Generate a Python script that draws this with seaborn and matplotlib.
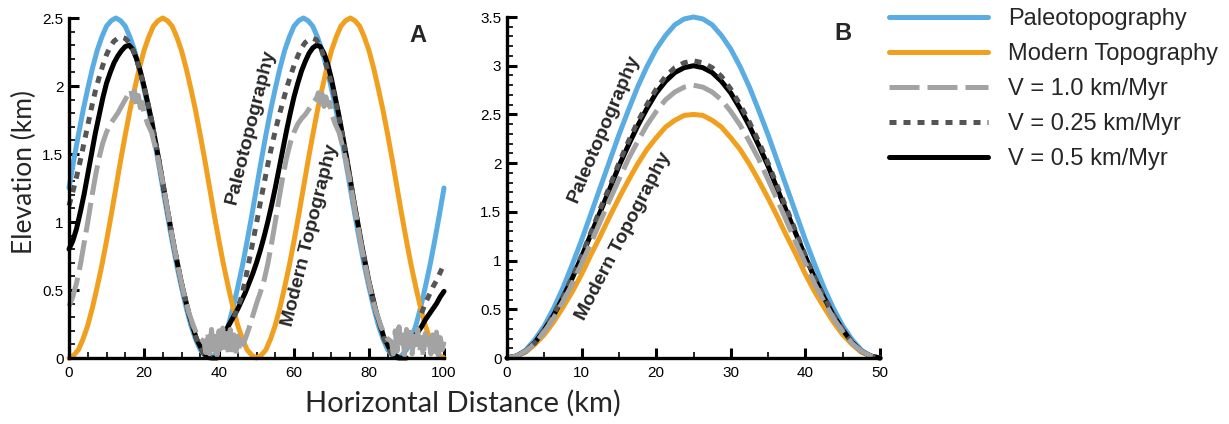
import numpy as np
import pandas as pd
import matplotlib
matplotlib.use("Agg")
import matplotlib.pyplot as plt
import seaborn as sns
from matplotlib.lines import Line2D
from matplotlib.ticker import MultipleLocator, FuncFormatter

# ---------------- Panel A data (x in km, elevation in km) ----------------
xa_grid = np.linspace(0, 100, 81)
paleo_a = [1.25, 1.45, 1.64, 1.82, 1.98, 2.13, 2.26, 2.36, 2.44, 2.48,
           2.50, 2.48, 2.44, 2.36, 2.26, 2.13, 1.98, 1.82, 1.64, 1.45,
           1.25, 1.05, 0.86, 0.68, 0.52, 0.37, 0.24, 0.14, 0.06, 0.02,
           0.00, 0.02, 0.06, 0.14, 0.24, 0.37, 0.52, 0.68, 0.86, 1.05,
           1.25, 1.45, 1.64, 1.82, 1.98, 2.13, 2.26, 2.36, 2.44, 2.48,
           2.50, 2.48, 2.44, 2.36, 2.26, 2.13, 1.98, 1.82, 1.64, 1.45,
           1.25, 1.05, 0.86, 0.68, 0.52, 0.37, 0.24, 0.14, 0.06, 0.02,
           0.00, 0.02, 0.06, 0.14, 0.24, 0.37, 0.52, 0.68, 0.86, 1.05,
           1.25]
modern_a = [0.00, 0.02, 0.06, 0.14, 0.24, 0.37, 0.52, 0.68, 0.86, 1.05,
            1.25, 1.45, 1.64, 1.82, 1.98, 2.13, 2.26, 2.36, 2.44, 2.48,
            2.50, 2.48, 2.44, 2.36, 2.26, 2.13, 1.98, 1.82, 1.64, 1.45,
            1.25, 1.05, 0.86, 0.68, 0.52, 0.37, 0.24, 0.14, 0.06, 0.02,
            0.00, 0.02, 0.06, 0.14, 0.24, 0.37, 0.52, 0.68, 0.86, 1.05,
            1.25, 1.45, 1.64, 1.82, 1.98, 2.13, 2.26, 2.36, 2.44, 2.48,
            2.50, 2.48, 2.44, 2.36, 2.26, 2.13, 1.98, 1.82, 1.64, 1.45,
            1.25, 1.05, 0.86, 0.68, 0.52, 0.37, 0.24, 0.14, 0.06, 0.02,
            0.00]

# V = 0.5 km/Myr (black), three pieces
v05_a_x1 = [0, 1, 2, 3, 4, 5, 6, 7, 8, 9, 10, 11, 12, 13, 14, 15, 16, 17, 18, 19,
            20, 22, 24, 26, 28, 30, 32, 34, 36, 38, 39.5]
v05_a_y1 = [0.80, 0.86, 0.95, 1.07, 1.20, 1.35, 1.50, 1.65, 1.78, 1.91, 2.02, 2.10,
            2.17, 2.22, 2.26, 2.29, 2.30, 2.27, 2.20, 2.11, 2.00, 1.75, 1.45, 1.13,
            0.82, 0.55, 0.32, 0.14, 0.03, 0.00, 0.00]
v05_a_x2 = [40.8, 42, 43, 44, 45, 46, 47, 48, 49, 50, 51, 52, 53, 54, 55, 56, 57, 58,
            59, 60, 61, 62, 63, 64, 65, 66, 67, 68, 69, 70, 72, 74, 76, 78, 80, 82,
            84, 86, 88, 90]
v05_a_y2 = [0.15, 0.21, 0.26, 0.31, 0.36, 0.42, 0.48, 0.55, 0.62, 0.70, 0.79, 0.89,
            1.00, 1.12, 1.25, 1.39, 1.53, 1.67, 1.80, 1.92, 2.02, 2.11, 2.18, 2.24,
            2.28, 2.30, 2.29, 2.24, 2.16, 2.05, 1.78, 1.48, 1.15, 0.84, 0.56, 0.33,
            0.15, 0.04, 0.00, 0.00]
v05_a_x3 = [91, 92, 93, 94, 95, 96, 97, 98, 99, 100]
v05_a_y3 = [0.11, 0.15, 0.19, 0.23, 0.28, 0.32, 0.36, 0.40, 0.45, 0.49]

# V = 0.25 km/Myr (dark dotted), three pieces
v025_a_x1 = [0, 1, 2, 3, 4, 5, 6, 7, 8, 9, 10, 11, 12, 13, 14, 15, 16, 17, 18,
             20, 22, 24, 26, 28, 30, 32, 34, 36, 38]
v025_a_y1 = [1.12, 1.22, 1.33, 1.45, 1.58, 1.71, 1.84, 1.96, 2.06, 2.15, 2.23, 2.29,
             2.33, 2.35, 2.36, 2.35, 2.32, 2.27, 2.20, 2.00, 1.75, 1.45, 1.13, 0.82,
             0.55, 0.32, 0.14, 0.03, 0.00]
v025_a_x2 = [44, 45, 46, 47, 48, 49, 50, 51, 52, 53, 54, 55, 56, 57, 58, 59, 60, 61,
             62, 63, 64, 65, 66, 67, 68, 70, 72, 74, 76, 78, 80, 82, 84, 86, 88]
v025_a_y2 = [0.30, 0.37, 0.45, 0.57, 0.71, 0.85, 0.99, 1.14, 1.28, 1.42, 1.55, 1.67,
             1.78, 1.88, 1.98, 2.07, 2.15, 2.22, 2.28, 2.32, 2.34, 2.35, 2.34, 2.29,
             2.21, 2.02, 1.77, 1.47, 1.14, 0.83, 0.55, 0.32, 0.14, 0.03, 0.00]
v025_a_x3 = [94, 95, 96, 97, 98, 99, 100]
v025_a_y3 = [0.33, 0.40, 0.46, 0.52, 0.57, 0.63, 0.69]

# V = 1.0 km/Myr (light grey dashed), one noisy piece
v10_a_x = [0, 1, 2, 3, 4, 5, 6, 7, 8, 9, 10, 11, 12, 13, 14, 15, 16, 16.5, 17, 17.5,
           18, 18.5, 19, 19.5, 20, 21, 22, 23, 24, 25, 26, 27, 28, 29, 30, 31, 32, 33,
           34, 35, 36,
           36.5, 37, 37.5, 38, 38.5, 39, 39.5, 40, 40.5, 41, 41.5, 42, 42.5, 43, 43.5,
           44, 44.5, 45, 45.5, 46,
           46.5, 47, 48, 49, 50, 51, 52, 53, 54, 55, 56, 57, 58, 59, 60, 61, 62, 63, 64,
           65, 66, 66.5, 67, 67.5, 68, 68.5, 69, 69.5, 70, 71, 72, 73, 74, 75, 76, 77,
           78, 79, 80, 81, 82, 83, 84, 85, 86,
           86.5, 87, 87.5, 88, 88.5, 89, 89.5, 90, 90.5, 91, 91.5, 92, 92.5, 93, 93.5,
           94, 94.5, 95, 95.5, 96, 96.5, 97, 97.5, 98, 98.5, 99, 99.5, 100]
v10_a_y = [0.38, 0.45, 0.55, 0.68, 0.84, 1.00, 1.17, 1.33, 1.47, 1.58, 1.66, 1.72,
           1.76, 1.80, 1.85, 1.90, 1.95, 1.97, 1.90, 1.96, 1.86, 1.93, 1.84, 1.88, 1.80,
           1.72, 1.66, 1.55, 1.43, 1.29, 1.13, 0.97, 0.82, 0.68, 0.55, 0.43, 0.33, 0.25,
           0.18, 0.14, 0.12,
           0.04, 0.19, 0.03, 0.21, 0.06, 0.16, 0.02, 0.20, 0.07, 0.22, 0.05, 0.18, 0.03,
           0.21, 0.06, 0.17, 0.02, 0.16, 0.05, 0.13,
           0.10, 0.14, 0.22, 0.31, 0.40, 0.48, 0.57, 0.69, 0.84, 1.00, 1.17, 1.33, 1.47,
           1.58, 1.66, 1.72, 1.76, 1.79, 1.83, 1.87, 1.91, 1.95, 1.88, 1.94, 1.85, 1.92,
           1.86, 1.88, 1.80, 1.72, 1.66, 1.55, 1.43, 1.29, 1.13, 0.97, 0.82, 0.68, 0.55,
           0.43, 0.33, 0.25, 0.18, 0.14, 0.12,
           0.03, 0.20, 0.05, 0.23, 0.07, 0.17, 0.02, 0.21, 0.06, 0.19, 0.03, 0.16, 0.07,
           0.21, 0.04, 0.15, 0.01, 0.18, 0.06, 0.14, 0.03, 0.17, 0.05, 0.19, 0.02, 0.15,
           0.06, 0.12]

# ---------------- Panel B data ----------------
xb_grid = np.linspace(0, 50, 41)
paleo_b = [0.00, 0.02, 0.08, 0.19, 0.33, 0.51, 0.72, 0.96, 1.21, 1.48, 1.75, 2.02,
           2.29, 2.54, 2.78, 2.99, 3.17, 3.31, 3.42, 3.48, 3.50, 3.48, 3.42, 3.31,
           3.17, 2.99, 2.78, 2.54, 2.29, 2.02, 1.75, 1.48, 1.21, 0.96, 0.72, 0.51,
           0.33, 0.19, 0.08, 0.02, 0.00]
modern_b = [0.00, 0.02, 0.06, 0.14, 0.24, 0.37, 0.52, 0.68, 0.86, 1.06, 1.25, 1.45,
            1.64, 1.82, 1.99, 2.14, 2.26, 2.37, 2.44, 2.49, 2.50, 2.49, 2.44, 2.37,
            2.26, 2.14, 1.99, 1.82, 1.64, 1.45, 1.25, 1.06, 0.86, 0.68, 0.52, 0.37,
            0.24, 0.14, 0.06, 0.02, 0.00]
v05_b = [0.00, 0.02, 0.07, 0.16, 0.29, 0.44, 0.62, 0.82, 1.04, 1.27, 1.50, 1.73,
         1.97, 2.18, 2.38, 2.56, 2.72, 2.84, 2.93, 2.98, 3.00, 2.98, 2.93, 2.84,
         2.72, 2.56, 2.38, 2.18, 1.97, 1.73, 1.50, 1.27, 1.04, 0.82, 0.62, 0.44,
         0.29, 0.16, 0.07, 0.02, 0.00]
v025_b = [0.00, 0.02, 0.07, 0.16, 0.29, 0.45, 0.63, 0.83, 1.05, 1.29, 1.53, 1.76,
          2.00, 2.22, 2.42, 2.60, 2.76, 2.89, 2.98, 3.03, 3.05, 3.03, 2.98, 2.89,
          2.76, 2.60, 2.42, 2.22, 2.00, 1.76, 1.53, 1.29, 1.05, 0.83, 0.63, 0.45,
          0.29, 0.16, 0.07, 0.02, 0.00]
v10_b = [0.00, 0.02, 0.07, 0.15, 0.27, 0.41, 0.58, 0.76, 0.97, 1.18, 1.40, 1.62,
         1.83, 2.04, 2.22, 2.39, 2.53, 2.65, 2.73, 2.78, 2.80, 2.78, 2.73, 2.65,
         2.53, 2.39, 2.22, 2.04, 1.83, 1.62, 1.40, 1.18, 0.97, 0.76, 0.58, 0.41,
         0.27, 0.15, 0.07, 0.02, 0.00]

legend_labels = ["Paleotopography", "Modern Topography", "V = 1.0 km/Myr",
                 "V = 0.25 km/Myr", "V = 0.5 km/Myr"]

# ---------------- styling ----------------
sns.set_theme(style="ticks")
plt.rcParams["font.family"] = ["Liberation Sans", "DejaVu Sans"]

BLUE = "#5AADE3"
ORANGE = "#F0A01E"
LGRAY = "#A3A3A3"
DGRAY = "#555555"
BLACK = "#000000"
LW = 3.6
DASH = (0, (6, 1.6))
DOT = (0, (1.4, 1.4))

W, H = 1229, 424
fig = plt.figure(figsize=(W / 100, H / 100), dpi=100)
axA = fig.add_axes([69 / W, 66 / H, 375 / W, 340 / H])
axB = fig.add_axes([507 / W, 66 / H, 373 / W, 341 / H])


def draw(ax, pieces, color, ls, z, lw=LW):
    frames = []
    for i, (x, y) in enumerate(pieces):
        frames.append(pd.DataFrame({"x": np.asarray(x, float),
                                    "y": np.asarray(y, float), "seg": i}))
    df = pd.concat(frames, ignore_index=True)
    sns.lineplot(data=df, x="x", y="y", units="seg", estimator=None, sort=False,
                 color=color, linewidth=lw, linestyle=ls, zorder=z,
                 clip_on=False, legend=False, ax=ax)


# Panel A
draw(axA, [(xa_grid, paleo_a)], BLUE, "-", 2)
draw(axA, [(xa_grid, modern_a)], ORANGE, "-", 3)
draw(axA, [(v05_a_x1, v05_a_y1), (v05_a_x2, v05_a_y2), (v05_a_x3, v05_a_y3)],
     BLACK, "-", 4)
draw(axA, [(v025_a_x1, v025_a_y1), (v025_a_x2, v025_a_y2), (v025_a_x3, v025_a_y3)],
     DGRAY, DOT, 5)
draw(axA, [(v10_a_x, v10_a_y)], LGRAY, DASH, 6)

# Panel B
draw(axB, [(xb_grid, paleo_b)], BLUE, "-", 2)
draw(axB, [(xb_grid, modern_b)], ORANGE, "-", 3)
draw(axB, [(xb_grid, v05_b)], BLACK, "-", 4)
draw(axB, [(xb_grid, v025_b)], DGRAY, DOT, 5)
draw(axB, [(xb_grid, v10_b)], LGRAY, DASH, 6)

fmt = FuncFormatter(lambda v, _: f"{v:g}")
for ax, xmax, xmaj, ymax in [(axA, 100, 20, 2.5), (axB, 50, 10, 3.5)]:
    ax.set_xlim(0, xmax)
    ax.set_ylim(0, ymax)
    ax.xaxis.set_major_locator(MultipleLocator(xmaj))
    ax.xaxis.set_minor_locator(MultipleLocator(5))
    ax.yaxis.set_major_locator(MultipleLocator(0.5))
    ax.yaxis.set_minor_locator(MultipleLocator(0.1))
    ax.xaxis.set_major_formatter(fmt)
    ax.yaxis.set_major_formatter(fmt)
    ax.set_xlabel("")
    ax.set_ylabel("")
    sns.despine(ax=ax)
    for s in ("left", "bottom"):
        ax.spines[s].set_linewidth(2.4)
        ax.spines[s].set_color("black")
        ax.spines[s].set_zorder(7)
    ax.tick_params(which="major", direction="in", length=7, width=2.2,
                   labelsize=11, colors="black")
    ax.tick_params(which="minor", direction="in", length=4, width=1.2,
                   colors="black")
    ax.tick_params(axis="y", pad=4)
    ax.tick_params(axis="x", pad=6)
    ax.set_facecolor("none")
    ax.grid(False)


def ftext(px, py, s, **kw):
    fig.text(px / W, 1 - py / H, s, **kw)


ftext(463, 403, "Horizontal Distance (km)", ha="center", va="center",
      fontsize=21, family=["Lato", "DejaVu Sans"])
ftext(24, 172, "Elevation (km)", ha="center", va="center", rotation=90,
      fontsize=19, family=["Lato", "DejaVu Sans"])
ftext(418, 35, "A", ha="center", va="center", fontsize=17, fontweight="bold")
ftext(843, 33, "B", ha="center", va="center", fontsize=17, fontweight="bold")

rot_kw = dict(ha="center", va="center", fontsize=14, fontweight="bold",
              rotation_mode="anchor")
ftext(251, 127, "Paleotopography", rotation=76, **rot_kw)
ftext(310, 235, "Modern Topography", rotation=76, **rot_kw)
ftext(604, 128, "Paleotopography", rotation=67, **rot_kw)
ftext(624, 236, "Modern Topography", rotation=62.5, **rot_kw)

handles = [Line2D([], [], color=BLUE, lw=LW),
           Line2D([], [], color=ORANGE, lw=LW),
           Line2D([], [], color=LGRAY, lw=LW, linestyle=DASH),
           Line2D([], [], color=DGRAY, lw=LW, linestyle=DOT),
           Line2D([], [], color=BLACK, lw=LW)]
fig.legend(handles, legend_labels, loc="upper left",
           bbox_to_anchor=(889 / W, 1 - 8 / H), frameon=False, fontsize=17,
           handlelength=4.2, handletextpad=0.85, labelspacing=0.55,
           borderpad=0, borderaxespad=0)

fig.savefig("out.png", dpi=100, facecolor="white")
